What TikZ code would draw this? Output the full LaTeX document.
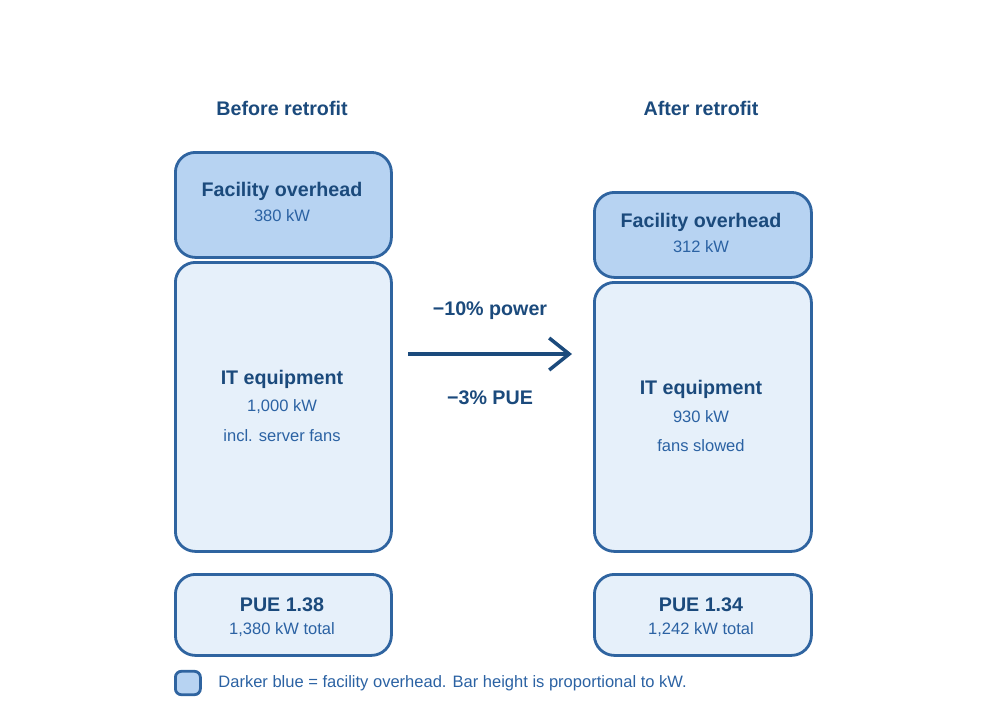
\documentclass[tikz,border=0pt]{standalone}
\usepackage{fontspec}
\setmainfont{Liberation Sans}
\usetikzlibrary{arrows.meta}
\definecolor{headtext}{HTML}{1B4A7C}
\definecolor{valtext}{HTML}{2B62A3}
\definecolor{overhead}{HTML}{B7D3F2}
\definecolor{itload}{HTML}{E6F0FA}
\definecolor{edge}{HTML}{2F64A0}
\tikzset{bar/.style={draw=edge, line width=0.8pt, rounded corners=2mm, anchor=north west}}
\tikzset{head/.style={text=headtext, font=\fontsize{5.6}{6}\selectfont\bfseries}}
\tikzset{val/.style={text=valtext, font=\fontsize{4.7}{5.5}\selectfont}}
\begin{document}
\begin{tikzpicture}
  \useasboundingbox (0,0) rectangle (9.84,7.12);

  \node[head] (T1) at (2.82,6.04) {Before retrofit};
  \node[head] (T2) at (7.01,6.04) {After retrofit};

  %% Before
  \node[bar,fill=overhead,minimum width=2.16cm,minimum height=1.05cm] (F1) at (1.74,5.61) {};
  \node[bar,fill=itload,minimum width=2.16cm,minimum height=2.89cm] (I1) at (1.74,4.51) {};
  \node[bar,fill=itload,minimum width=2.16cm,minimum height=0.81cm] (P1) at (1.74,1.39) {};
  \node[head] at (2.82,5.21) {Facility overhead};
  \node[val] at (2.82,4.96) {380 kW};
  \node[head] at (2.82,3.33) {IT equipment};
  \node[val] at (2.82,3.05) {1,000 kW};
  \node[val] at (2.82,2.76) {incl. server fans};
  \node[head] at (2.82,1.07) {PUE 1.38};
  \node[val] at (2.82,0.82) {1,380 kW total};

  %% After
  \node[bar,fill=overhead,minimum width=2.17cm,minimum height=0.85cm] (F2) at (5.93,5.21) {};
  \node[bar,fill=itload,minimum width=2.17cm,minimum height=2.69cm] (I2) at (5.93,4.31) {};
  \node[bar,fill=itload,minimum width=2.17cm,minimum height=0.81cm] (P2) at (5.93,1.39) {};
  \node[head] at (7.01,4.90) {Facility overhead};
  \node[val] at (7.01,4.65) {312 kW};
  \node[head] at (7.01,3.23) {IT equipment};
  \node[val] at (7.01,2.95) {930 kW};
  \node[val] at (7.01,2.66) {fans slowed};
  \node[head] at (7.01,1.07) {PUE 1.34};
  \node[val] at (7.01,0.82) {1,242 kW total};

  %% Change
  \coordinate (A) at (4.08,3.58);
  \coordinate (B) at (5.72,3.58);
  \draw[->, headtext, line width=1pt, >={Straight Barb[length=2mm,width=3.2mm]}] (A) -- (B);
  \node[head] (D1) at (4.90,4.01) {−10\% power};
  \node[head] (D2) at (4.90,3.14) {−3\% PUE};

  %% Legend
  \node[draw=edge, fill=overhead, line width=0.8pt, rounded corners=0.6mm, minimum width=0.25cm, minimum height=0.18cm, anchor=west] (L) at (1.74,0.29) {};
  \node[val, anchor=west] at (2.06,0.29) {Darker blue = facility overhead. Bar height is proportional to kW.};
\end{tikzpicture}
\end{document}
